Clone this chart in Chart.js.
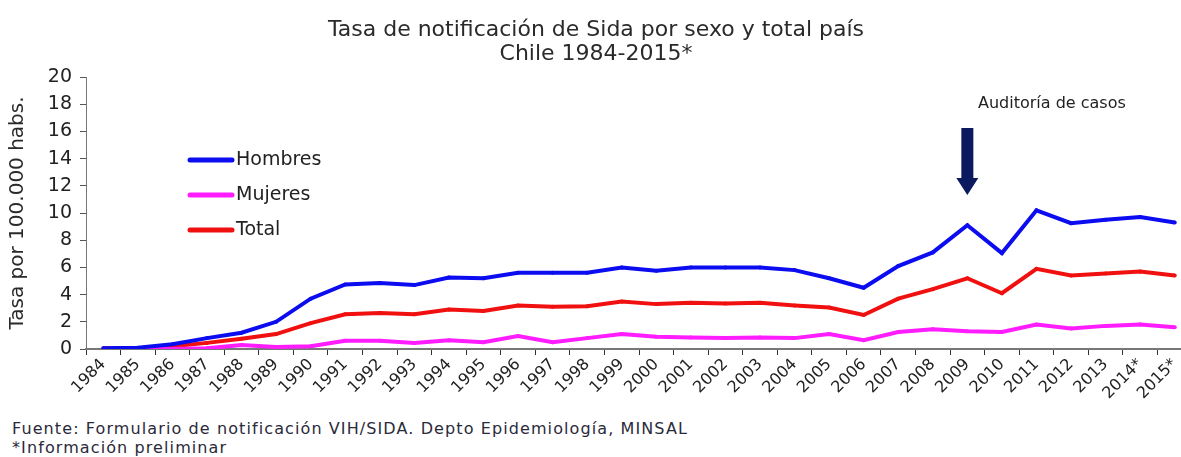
<!DOCTYPE html>
<html>
<head>
<meta charset="utf-8">
<script src="https://cdn.jsdelivr.net/npm/chart.js@4.4.0/dist/chart.umd.min.js"></script>
<style>
  html, body { margin: 0; padding: 0; background: #fff; overflow: hidden; }
  #wrap { position: relative; width: 1214px; height: 410px; }
  .note { position: absolute; left: 12px; font-family: "DejaVu Sans", Verdana, sans-serif; font-size: 16px; letter-spacing: 1.1px; color: #2a2a3a; white-space: nowrap; }
</style>
</head>
<body>
<div id="wrap"><canvas id="chart"></canvas></div>
<div class="note" style="top:419px">Fuente: Formulario de notificación VIH/SIDA. Depto Epidemiología, MINSAL</div>
<div class="note" style="top:438px">*Información preliminar</div>
<script>
// --- Data ---
const years = ["1984", "1985", "1986", "1987", "1988", "1989", "1990", "1991", "1992", "1993",
  "1994", "1995", "1996", "1997", "1998", "1999", "2000", "2001", "2002", "2003",
  "2004", "2005", "2006", "2007", "2008", "2009", "2010", "2011", "2012", "2013",
  "2014*", "2015*"];

const hombres = [0.05, 0.1, 0.35, 0.8, 1.2, 2.0, 3.7, 4.75, 4.85, 4.7,
  5.25, 5.2, 5.6, 5.6, 5.6, 6.0, 5.75, 6.0, 6.0, 6.0,
  5.8, 5.2, 4.5, 6.1, 7.1, 9.1, 7.05, 10.2, 9.25, 9.5,
  9.7, 9.3];

const mujeres = [0.0, 0.0, 0.0, 0.05, 0.3, 0.15, 0.2, 0.6, 0.6, 0.45,
  0.65, 0.5, 0.95, 0.5, 0.8, 1.1, 0.9, 0.85, 0.8, 0.85,
  0.8, 1.1, 0.65, 1.25, 1.45, 1.3, 1.25, 1.8, 1.5, 1.7,
  1.8, 1.6];

const total = [0.05, 0.05, 0.2, 0.45, 0.75, 1.1, 1.9, 2.55, 2.65, 2.55,
  2.9, 2.8, 3.2, 3.1, 3.15, 3.5, 3.3, 3.4, 3.35, 3.4,
  3.2, 3.05, 2.5, 3.7, 4.4, 5.2, 4.1, 5.9, 5.4, 5.55,
  5.7, 5.4];

const yTicks = [0, 2, 4, 6, 8, 10, 12, 14, 16, 18, 20];

const BLUE = "#0c0cf0";
const MAGENTA = "#ff1cff";
const RED = "#f01010";
const FONT = "'DejaVu Sans', Verdana, sans-serif";

function series(label, data, color) {
  return {
    label: label,
    data: data,
    borderColor: color,
    backgroundColor: color,
    borderWidth: 4,
    pointRadius: 2,
    pointBorderWidth: 0,
    tension: 0
  };
}

// --- Legend + annotation drawn on canvas ---
const extras = {
  id: "extras",
  afterDraw(chart) {
    const ctx = chart.ctx;
    ctx.save();
    const items = [["Hombres", BLUE, 160], ["Mujeres", MAGENTA, 195], ["Total", RED, 230]];
    ctx.font = "19px " + FONT;
    ctx.textBaseline = "middle";
    items.forEach(([txt, col, y]) => {
      ctx.strokeStyle = col;
      ctx.lineWidth = 5;
      ctx.lineCap = "round";
      ctx.beginPath();
      ctx.moveTo(190, y);
      ctx.lineTo(232, y);
      ctx.stroke();
      ctx.fillStyle = "#222";
      ctx.fillText(txt, 236, y);
    });

    // "Auditoría de casos" arrow, pointing at 2009
    const xs = chart.scales.x.getPixelForValue(25);
    ctx.font = "16px " + FONT;
    ctx.fillStyle = "#222";
    ctx.textAlign = "left";
    ctx.fillText("Auditoría de casos", 978, 104);
    ctx.fillStyle = "#0b1a5e";
    ctx.fillRect(xs - 6, 128, 12, 52);
    ctx.beginPath();
    ctx.moveTo(xs - 11, 178);
    ctx.lineTo(xs + 11, 178);
    ctx.lineTo(xs, 195);
    ctx.closePath();
    ctx.fill();
    ctx.restore();
  }
};

new Chart(document.getElementById("chart"), {
  type: "line",
  data: {
    labels: years,
    datasets: [
      series("Hombres", hombres, BLUE),
      series("Mujeres", mujeres, MAGENTA),
      series("Total", total, RED)
    ]
  },
  options: {
    responsive: true,
    maintainAspectRatio: false,
    animation: false,
    layout: { padding: { left: 0, right: 22, top: 0, bottom: 0 } },
    plugins: {
      legend: { display: false },
      tooltip: { enabled: false },
      title: {
        display: true,
        text: "Tasa de notificación de Sida por sexo y total país",
        color: "#2a2a2a",
        font: { family: FONT, size: 22, weight: "normal", lineHeight: 1.0 },
        padding: { top: 19, bottom: 2 }
      },
      subtitle: {
        display: true,
        text: "Chile 1984-2015*",
        color: "#2a2a2a",
        font: { family: FONT, size: 22, weight: "normal", lineHeight: 1.0 },
        padding: { top: 0, bottom: 12 }
      }
    },
    scales: {
      x: {
        offset: true,
        grid: { offset: true, drawOnChartArea: false, drawTicks: true, tickLength: 6, color: "#333" },
        border: { color: "#777", width: 2 },
        ticks: {
          color: "#222",
          font: { family: FONT, size: 16 },
          maxRotation: 45,
          minRotation: 45,
          autoSkip: false,
          padding: 0
        },
        afterFit(scale) { scale.height = 61; }
      },
      y: {
        min: 0,
        max: 20,
        afterBuildTicks(scale) { scale.ticks = yTicks.map(v => ({ value: v })); },
        grid: { drawOnChartArea: false, drawTicks: true, tickLength: 6, color: "#555" },
        border: { color: "#777", width: 1 },
        ticks: { color: "#222", font: { family: FONT, size: 19 }, padding: 8 },
        title: {
          display: true,
          text: "Tasa por 100.000 habs.",
          color: "#2a2a2a",
          font: { family: FONT, size: 20 },
          padding: { top: 6, bottom: 6 }
        },
        afterFit(scale) { scale.width = 86; }
      }
    }
  },
  plugins: [extras]
});
</script>
</body>
</html>
